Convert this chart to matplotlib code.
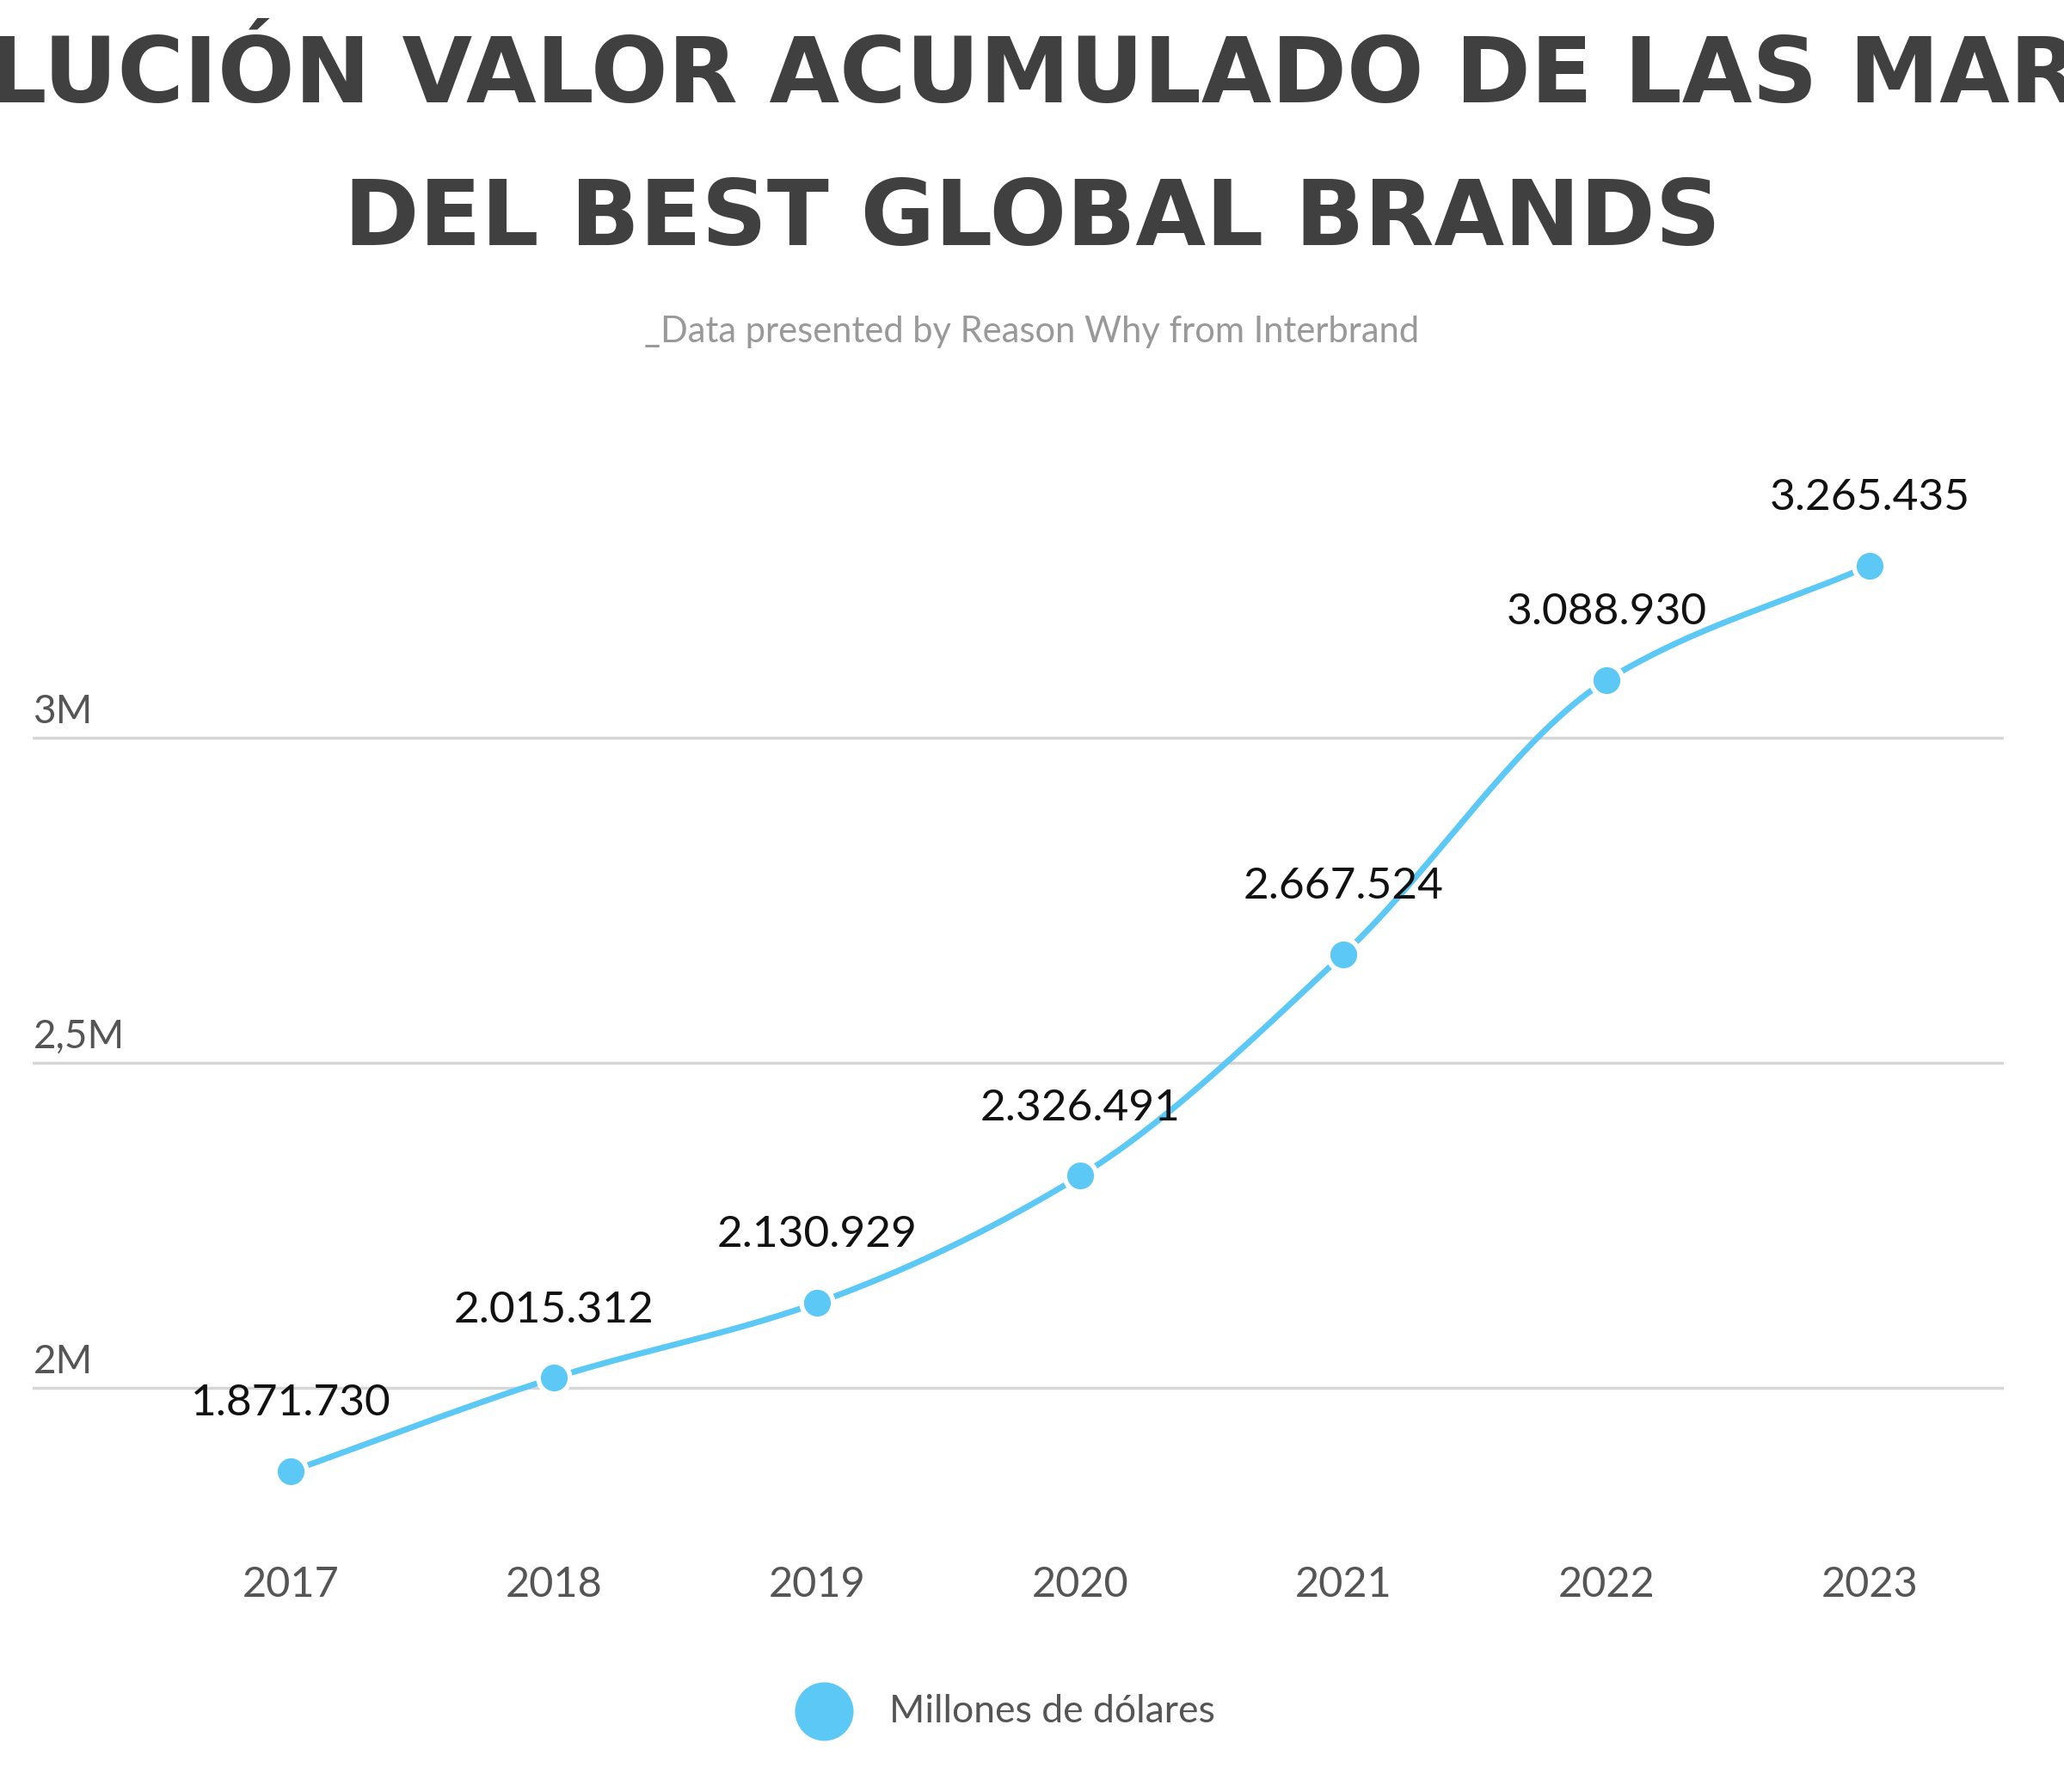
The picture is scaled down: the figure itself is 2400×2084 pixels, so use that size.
import numpy as np
import matplotlib.pyplot as plt
from matplotlib.lines import Line2D

years = [2017, 2018, 2019, 2020, 2021, 2022, 2023]
values = [1871730, 2015312, 2130929, 2326491, 2667524, 3088930, 3265435]
labels = ["1.871.730", "2.015.312", "2.130.929", "2.326.491", "2.667.524", "3.088.930", "3.265.435"]
yticks = [2000000, 2500000, 3000000]
ytick_labels = ["2M", "2,5M", "3M"]

color = "#5bc8f5"


def pchip(x, y, xs):
    # monotone cubic hermite, just for drawing a smooth line
    x = np.asarray(x, float); y = np.asarray(y, float)
    h = np.diff(x); d = np.diff(y) / h
    m = np.zeros_like(y)
    for i in range(1, len(y) - 1):
        if d[i - 1] * d[i] > 0:
            w1 = 2 * h[i] + h[i - 1]; w2 = h[i] + 2 * h[i - 1]
            m[i] = (w1 + w2) / (w1 / d[i - 1] + w2 / d[i])
    m[0] = d[0]; m[-1] = d[-1]
    out = np.empty_like(xs)
    for j, xv in enumerate(xs):
        i = min(np.searchsorted(x, xv) - 1, len(x) - 2); i = max(i, 0)
        t = (xv - x[i]) / h[i]
        h00 = 2*t**3 - 3*t**2 + 1; h10 = t**3 - 2*t**2 + t
        h01 = -2*t**3 + 3*t**2; h11 = t**3 - t**2
        out[j] = h00*y[i] + h10*h[i]*m[i] + h01*y[i+1] + h11*h[i]*m[i+1]
    return out


fig = plt.figure(figsize=(24, 20.84), dpi=100)
ax = fig.add_axes([0.016, 0.153, 0.955, 0.602])

xs = np.linspace(years[0], years[-1], 400)
ax.plot(xs, pchip(years, values, xs), color=color, lw=5, zorder=2)
ax.scatter(years, values, s=700, color=color, edgecolor="white", linewidth=4, zorder=3)

for x, v, lab in zip(years, values, labels):
    ax.annotate(lab, (x, v), xytext=(0, 40), textcoords="offset points",
                ha="center", va="bottom", fontsize=37, family="Lato", color="#111111")

for t, lab in zip(yticks, ytick_labels):
    ax.axhline(t, color="#d6d6d6", lw=2.5, zorder=1)
    ax.text(2016.02, t + 12000, lab, fontsize=33, family="Lato", color="#555555",
            ha="left", va="bottom")

ax.set_xlim(2016.02, 2023.51)
ax.set_ylim(1800000, 3460000)
ax.set_yticks([])
ax.set_xticks(years)
ax.set_xticklabels([str(y) for y in years], fontsize=35, family="Lato", color="#555555")
ax.tick_params(axis="x", length=0, pad=40)
for s in ax.spines.values():
    s.set_visible(False)

title_font = ["Liberation Sans Narrow", "DejaVu Sans"]
fig.text(0.5, 0.957, "EVOLUCIÓN VALOR ACUMULADO DE LAS MARCAS", ha="center", va="center",
         fontsize=76, fontweight="bold", family=title_font, color="#404040")
fig.text(0.5, 0.877, "DEL BEST GLOBAL BRANDS", ha="center", va="center",
         fontsize=76, fontweight="bold", family=title_font, color="#404040")
fig.text(0.5, 0.815, "_Data presented by Reason Why from Interbrand", ha="center", va="center",
         fontsize=30, family="Lato", color="#999999")

fig.add_artist(Line2D([0.399], [0.045], marker="o", markersize=48, color=color,
                      linestyle="none", transform=fig.transFigure))
fig.text(0.431, 0.045, "Millones de dólares", ha="left", va="center",
         fontsize=32, family="Lato", color="#555555")

fig.savefig("out.png", dpi=100, facecolor="white")
